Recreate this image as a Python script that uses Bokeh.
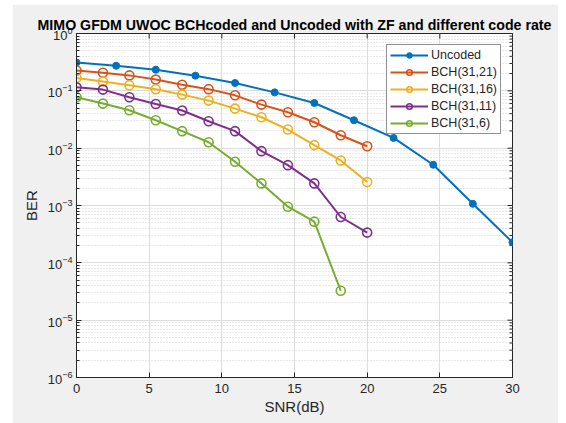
from bokeh.plotting import figure
from bokeh.models import Range1d, FixedTicker, Legend, LegendItem
from bokeh.embed import file_html
from bokeh.resources import INLINE
import numpy as np

# SNR sweeps (dB)
snr_uncoded = np.linspace(0, 30, 12)
snr_coded = np.linspace(0, 20, 12)

# BER curves
ber_uncoded = [0.313, 0.274, 0.234, 0.184, 0.137, 0.094, 0.0614, 0.0307, 0.0151, 0.00514, 0.00107, 0.000228]
ber_bch_31_21 = [0.227, 0.207, 0.186, 0.157, 0.128, 0.107, 0.0835, 0.0575, 0.0423, 0.0283, 0.0168, 0.0108]
ber_bch_31_16 = [0.167, 0.146, 0.125, 0.107, 0.0859, 0.0675, 0.049, 0.0346, 0.0211, 0.0113, 0.0061, 0.00256]
ber_bch_31_11 = [0.115, 0.105, 0.0771, 0.0589, 0.0453, 0.0295, 0.0198, 0.00887, 0.00506, 0.00243, 0.00063, 0.000337]
ber_bch_31_6 = [0.0771, 0.0599, 0.0458, 0.0307, 0.0198, 0.0127, 0.00578, 0.00243, 0.000953, 0.000523, 0.0000326]

series_names = ["Uncoded", "BCH(31,21)", "BCH(31,16)", "BCH(31,11)", "BCH(31,6)"]
series_colors = ["#0072BD", "#D95319", "#EDB120", "#7E2F8E", "#77AC30"]

x_ticks = [0, 5, 10, 15, 20, 25, 30]
y_ticks = [1e-6, 1e-5, 1e-4, 1e-3, 1e-2, 1e-1, 1e0]
y_minor = [m * 10.0 ** e for e in range(-6, 0) for m in range(2, 10)]

FONT = "Liberation Sans"
AX = "#262626"
GRID = "#dcdcdc"

p = figure(width=546, height=419, output_backend="svg", toolbar_location=None,
           y_axis_type="log", x_range=Range1d(0, 30), y_range=Range1d(1e-6, 1),
           min_border_left=64, min_border_right=46, min_border_top=29, min_border_bottom=46)
p.margin = (4, 8, 0, 12)
p.background_fill_color = "white"
p.border_fill_color = "#f0f0f0"
p.outline_line_color = AX
p.outline_line_width = 1

p.title.text = "MIMO GFDM UWOC BCHcoded and Uncoded with ZF and different code rate"
p.title.text_font = FONT
p.title.text_font_size = "14.2px"
p.title.text_font_style = "bold"
p.title.text_color = "black"
p.title.align = "center"
p.title.offset = 0
p.title.standoff = 1

x_ticker = FixedTicker(ticks=x_ticks)
y_ticker = FixedTicker(ticks=y_ticks, minor_ticks=y_minor)

p.xaxis.ticker = x_ticker
p.yaxis.ticker = y_ticker
p.xaxis.axis_label = "SNR(dB)"
p.yaxis.axis_label = "BER"

for ax in (p.xaxis[0], p.yaxis[0]):
    ax.axis_line_color = AX
    ax.major_tick_line_color = AX
    ax.minor_tick_line_color = AX
    ax.major_tick_in = 5
    ax.major_tick_out = 0
    ax.minor_tick_in = 3
    ax.minor_tick_out = 0
    ax.major_label_text_font = FONT
    ax.major_label_text_font_size = "13px"
    ax.major_label_text_color = AX
    ax.axis_label_text_font = FONT
    ax.axis_label_text_font_size = "15px"
    ax.axis_label_text_font_style = "normal"
    ax.axis_label_text_color = AX
p.xaxis.major_label_standoff = 6
p.xaxis.axis_label_standoff = 2
p.yaxis.major_label_standoff = 4
p.yaxis.axis_label_standoff = 5

p.xgrid.ticker = x_ticker
p.ygrid.ticker = y_ticker
p.xgrid.grid_line_color = GRID
p.ygrid.grid_line_color = GRID
p.ygrid.minor_grid_line_color = "#cfcfcf"
p.ygrid.minor_grid_line_dash = "1 2"
p.ygrid.minor_grid_line_alpha = 0.9

# inward tick marks along the top and right edges of the box (half of each dash is clipped)
p.scatter([30] * len(y_ticks), y_ticks, marker="dash", size=10, line_color=AX, line_width=1)
p.scatter([30] * len(y_minor), y_minor, marker="dash", size=6, line_color=AX, line_width=1)
p.scatter(x_ticks, [1] * len(x_ticks), marker="dash", angle=np.pi / 2, size=10,
          line_color=AX, line_width=1)

items = []
data = [
    (snr_uncoded, ber_uncoded),
    (snr_coded, ber_bch_31_21),
    (snr_coded, ber_bch_31_16),
    (snr_coded, ber_bch_31_11),
    (snr_coded[:len(ber_bch_31_6)], ber_bch_31_6),
]
for i, ((xs, ys), name, color) in enumerate(zip(data, series_names, series_colors)):
    ln = p.line(list(xs), ys, line_color=color, line_width=2)
    if i == 0:
        mk = p.scatter(list(xs), ys, marker="circle", size=7, fill_color=color, line_color=color)
    else:
        mk = p.scatter(list(xs), ys, marker="circle", size=9, fill_color=None,
                       line_color=color, line_width=1.6)
    items.append(LegendItem(label=name, renderers=[ln, mk]))

legend = Legend(items=items, location="top_right")
legend.label_text_font = FONT
legend.label_text_font_size = "12.5px"
legend.label_text_color = AX
legend.glyph_width = 38
legend.glyph_height = 14
legend.label_height = 14
legend.spacing = 3
legend.padding = 3
legend.margin = 11
legend.border_line_color = AX
legend.border_line_width = 1
legend.background_fill_color = "white"
legend.background_fill_alpha = 1
legend.label_standoff = 3
p.add_layout(legend)

open("out.html", "w").write(file_html(p, INLINE))
